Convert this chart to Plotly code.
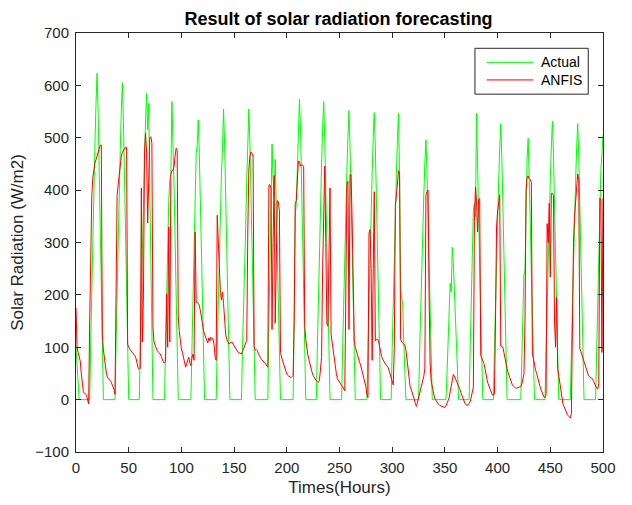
import plotly.graph_objects as go

# Hourly values (hours 0..500)
hours = list(range(0, 501))

actual = [
    100, 60, 20, 0, 0, 0, 0, 0, 0, 0, 0, 0, 0, 0, 112, 224, 324, 411, 492, 567, 623, 548, 449, 336,
    218, 100, 0, 0, 0, 0, 0, 0, 0, 0, 0, 0, 0, 0, 109, 218, 315, 399, 478, 551, 605, 532, 436, 327,
    212, 97, 0, 0, 0, 0, 0, 0, 0, 0, 0, 0, 0, 105, 211, 304, 386, 462, 532, 585, 515, 566, 400, 280,
    120, 0, 0, 0, 0, 0, 0, 0, 0, 0, 0, 0, 0, 102, 205, 296, 380, 420, 430, 569, 501, 410, 307, 199,
    91, 0, 0, 0, 0, 0, 0, 0, 0, 0, 0, 0, 0, 0, 96, 192, 278, 352, 470, 486, 534, 470, 384, 288,
    187, 85, 0, 0, 0, 0, 0, 0, 0, 0, 0, 0, 0, 0, 100, 200, 289, 366, 432, 480, 555, 488, 400, 300,
    194, 89, 0, 0, 0, 0, 0, 0, 0, 0, 0, 0, 0, 0, 100, 200, 289, 330, 420, 505, 555, 488, 400, 300,
    194, 89, 0, 0, 0, 0, 0, 0, 0, 0, 0, 0, 0, 0, 0, 140, 270, 390, 488, 420, 390, 459, 370, 270,
    170, 70, 0, 0, 0, 0, 0, 0, 0, 0, 0, 0, 0, 0, 0, 150, 350, 375, 450, 530, 573, 520, 430, 320,
    210, 100, 0, 0, 0, 0, 0, 0, 0, 0, 0, 0, 0, 102, 205, 296, 376, 450, 518, 569, 501, 410, 307, 199,
    91, 0, 0, 0, 0, 0, 0, 0, 0, 0, 0, 0, 0, 99, 199, 287, 364, 436, 502, 552, 480, 400, 300, 193,
    88, 0, 0, 0, 0, 0, 0, 0, 0, 0, 0, 0, 0, 99, 197, 285, 362, 433, 499, 548, 482, 395, 296, 192,
    88, 0, 0, 0, 0, 0, 0, 0, 0, 0, 0, 0, 98, 197, 284, 361, 432, 498, 547, 420, 210, 195, 180, 110,
    40, 0, 0, 0, 0, 0, 0, 0, 0, 0, 0, 0, 0, 0, 89, 179, 258, 327, 392, 451, 496, 436, 357, 268,
    174, 79, 0, 0, 0, 0, 0, 0, 0, 0, 0, 0, 0, 0, 0, 0, 50, 110, 170, 222, 205, 291, 260, 200,
    150, 100, 50, 0, 0, 0, 0, 0, 0, 0, 0, 0, 0, 0, 98, 197, 285, 362, 375, 350, 547, 430, 320, 240,
    160, 80, 0, 0, 0, 0, 0, 0, 0, 0, 0, 0, 0, 95, 190, 274, 348, 416, 480, 527, 464, 379, 285, 184,
    84, 0, 0, 0, 0, 0, 0, 0, 0, 0, 0, 0, 0, 0, 0, 80, 160, 240, 247, 380, 460, 499, 430, 340,
    240, 140, 50, 0, 0, 0, 0, 0, 0, 0, 0, 0, 0, 0, 96, 192, 277, 351, 420, 484, 532, 468, 383, 287,
    186, 85, 0, 0, 0, 0, 0, 0, 0, 0, 0, 0, 0, 0, 95, 190, 274, 348, 416, 480, 527, 464, 379, 285,
    184, 84, 0, 0, 0, 0, 0, 0, 0, 0, 0, 0, 0, 0, 95, 190, 274, 380, 440, 470, 505,
]

anfis = [
    175, 100, 90, 80, 74, 50, 25, 15, 12, 11, 8, 2, -8, 150, 330, 390, 425, 445, 452, 458, 464, 472, 480, 486,
    486, 125, 95, 75, 60, 48, 42, 40, 37, 35, 30, 25, 20, 10, 300, 390, 410, 430, 450, 465, 472, 476, 479, 482,
    482, 106, 100, 96, 93, 91, 88, 86, 84, 78, 68, 60, 58, 60, 404, 110, 200, 470, 509, 470, 337, 460, 500, 502,
    490, 140, 110, 104, 98, 94, 91, 89, 87, 82, 77, 71, 70, 73, 202, 100, 330, 110, 430, 437, 438, 445, 465, 480,
    475, 160, 130, 110, 97, 90, 80, 68, 62, 68, 76, 81, 70, 65, 80, 87, 75, 320, 186, 186, 184, 180, 170, 155,
    142, 132, 125, 120, 116, 108, 118, 112, 119, 116, 116, 105, 81, 75, 352, 300, 240, 205, 190, 205, 183, 140, 125, 115,
    108, 106, 108, 110, 110, 106, 102, 100, 97, 93, 90, 89, 88, 87, 92, 97, 103, 108, 113, 322, 440, 465, 473, 470,
    465, 102, 94, 96, 94, 88, 82, 80, 77, 75, 73, 71, 68, 64, 62, 410, 410, 404, 134, 300, 428, 146, 320, 380,
    378, 360, 90, 80, 73, 68, 60, 54, 49, 46, 44, 43, 42, 44, 46, 150, 374, 380, 430, 455, 455, 446, 448, 448,
    445, 140, 115, 97, 85, 76, 66, 58, 52, 46, 42, 39, 36, 34, 33, 38, 55, 81, 250, 400, 446, 300, 145, 140,
    250, 404, 125, 108, 94, 75, 60, 50, 40, 36, 33, 30, 27, 24, 20, 17, 200, 410, 417, 134, 430, 430, 340, 200,
    113, 100, 92, 85, 78, 72, 66, 58, 50, 42, 36, 25, 10, 4, 318, 325, 250, 75, 250, 397, 112, 115, 116, 112,
    100, 87, 82, 77, 72, 70, 67, 64, 62, 56, 50, 43, 36, 28, 100, 372, 390, 415, 437, 430, 115, 110, 108, 107,
    104, 95, 78, 60, 35, 25, 20, 14, 9, 0, -8, -13, -5, 3, 11, 19, 28, 36, 45, 60, 390, 397, 400, 200,
    68, 35, 22, 12, 5, 0, -4, -7, -9, -11, -12, -13, -14, -15, -15, -12, -8, -3, 3, 15, 25, 35, 48, 45,
    40, 37, 33, 27, 21, 14, 8, 2, -3, -7, -10, -11, -10, -7, -4, 5, 15, 24, 340, 406, 380, 320, 381, 384,
    84, 80, 74, 69, 60, 45, 38, 30, 24, 19, 14, 9, 8, 11, 150, 330, 360, 380, 391, 102, 100, 100, 90, 78,
    68, 59, 51, 44, 38, 33, 28, 26, 24, 22, 22, 23, 24, 24, 25, 30, 38, 49, 150, 400, 425, 427, 422, 420,
    415, 87, 78, 65, 57, 50, 40, 33, 27, 20, 15, 10, 5, 4, 10, 336, 300, 375, 234, 394, 394, 390, 150, 100,
    196, 60, 45, 36, 22, 8, -8, -13, -19, -24, -28, -31, -34, -35, -27, 150, 300, 350, 380, 410, 431, 420, 97, 92,
    85, 78, 70, 64, 57, 52, 47, 44, 42, 41, 40, 35, 30, 25, 22, 20, 30, 385, 380, 90, 385,
]

x_ticks = [0, 50, 100, 150, 200, 250, 300, 350, 400, 450, 500]
y_ticks = [-100, 0, 100, 200, 300, 400, 500, 600, 700]
series_names = ["Actual", "ANFIS"]
series_colors = ["#00ff00", "#ff0000"]

FONT = "Liberation Sans, Arial, Helvetica, sans-serif"
AX = "#262626"

fig = go.Figure()
fig.add_trace(go.Scatter(x=hours, y=actual, mode="lines", name=series_names[0],
                         line=dict(color=series_colors[0], width=1), showlegend=False))
fig.add_trace(go.Scatter(x=hours, y=anfis, mode="lines", name=series_names[1],
                         line=dict(color=series_colors[1], width=1), showlegend=False))

axis_common = dict(showline=True, linecolor=AX, linewidth=1, mirror="ticks",
                   ticks="inside", ticklen=5, tickcolor=AX, showgrid=False,
                   zeroline=False, automargin=False,
                   tickfont=dict(family=FONT, size=15, color=AX))

# Legend box drawn in paper coordinates (matches the MATLAB-style legend)
lx0, lx1, ly0, ly1 = 0.757, 0.972, 0.854, 0.9635
line_x0, line_x1, text_x = 0.779, 0.868, 0.879
row_y = [0.930, 0.888]

shapes = [dict(type="rect", xref="paper", yref="paper", x0=lx0, x1=lx1, y0=ly0, y1=ly1,
               line=dict(color=AX, width=1), fillcolor="white", layer="above")]
annotations = []
for name, color, yy in zip(series_names, series_colors, row_y):
    shapes.append(dict(type="line", xref="paper", yref="paper", x0=line_x0, x1=line_x1,
                       y0=yy, y1=yy, line=dict(color=color, width=1), layer="above"))
    annotations.append(dict(xref="paper", yref="paper", x=text_x, y=yy, text=name,
                            showarrow=False, xanchor="left", yanchor="middle",
                            font=dict(family=FONT, size=14, color="#000000")))

fig.update_layout(
    width=616, height=489,
    margin=dict(l=68, r=21, t=25, b=45, autoexpand=False),
    paper_bgcolor="white", plot_bgcolor="white",
    title=dict(text="<b>Result of solar radiation forecasting</b>", x=0.5367, xanchor="center",
               xref="container", yref="container", y=0.978, yanchor="middle",
               font=dict(family=FONT, size=18, color="#000000")),
    xaxis=dict(range=[0, 500], tickvals=x_ticks, ticklabelstandoff=2, **axis_common,
               title=dict(text="Times(Hours)", standoff=8, font=dict(family=FONT, size=17, color=AX))),
    yaxis=dict(range=[-100, 700], tickvals=y_ticks, ticklabelstandoff=3, **axis_common,
               title=dict(text="Solar Radiation (W/m2)", standoff=7, font=dict(family=FONT, size=17, color=AX))),
    shapes=shapes,
    annotations=annotations,
    showlegend=False,
)

fig.write_html("out.html")
